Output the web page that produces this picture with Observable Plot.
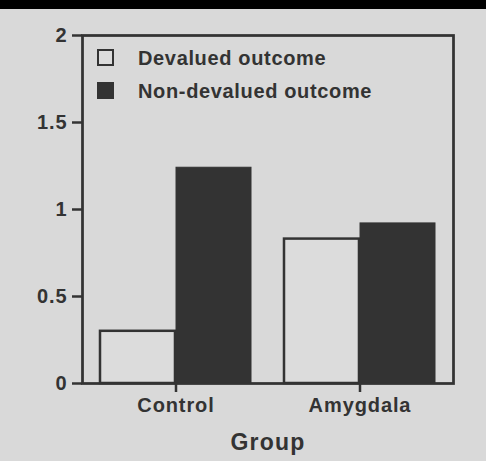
<!DOCTYPE html>
<html>
<head>
<meta charset="utf-8">
<script src="https://cdn.jsdelivr.net/npm/d3@7"></script>
<script src="https://cdn.jsdelivr.net/npm/@observablehq/plot@0.6"></script>
<style>
  html, body { margin: 0; padding: 0; background: #d9d9d9; }
  #page { position: relative; width: 486px; height: 461px; overflow: hidden; background: #d9d9d9; }
  #topband { height: 9px; background: #000; }
  #chart svg { display: block; }
  #chart text { letter-spacing: 0.9px; }
  #chart g[aria-label="x-axis label"] text { font-size: 23px; letter-spacing: 1.2px; }
  .legend { position: absolute; left: 97px; font: bold 20px "Liberation Sans", Arial, sans-serif; color: #333; letter-spacing: 0.65px; }
  .legend .row { position: absolute; left: 0; height: 22px; line-height: 22px; white-space: nowrap; }
  .legend .sw { position: absolute; left: 0; top: 2px; width: 13px; height: 13px; border: 2.5px solid #333; }
  .legend .lab { position: absolute; left: 41px; top: 0; }
</style>
</head>
<body>
<div id="page">
  <div id="topband"></div>
  <div id="chart"></div>
  <div class="legend" id="legend"></div>
</div>
<script>
const groups = ["Control", "Amygdala"];
const devalued = [0.30, 0.83];
const nonDevalued = [1.24, 0.92];
const conditions = ["Devalued outcome", "Non-devalued outcome"];
const conditionFills = ["#dcdcdc", "#333333"];
const yTicks = [0, 0.5, 1, 1.5, 2];
const xLabel = "Group";

const W = 486, H = 452;
const mL = 82, mR = 33, mT = 26, mB = 78;
const padIn = 0.177, padOut = 0.0926;

const bw = d3.scaleBand().domain(groups).range([mL, W - mR])
  .paddingInner(padIn).paddingOuter(padOut).bandwidth();

const rowsDev = groups.map((g, i) => ({group: g, value: devalued[i]}));
const rowsNon = groups.map((g, i) => ({group: g, value: nonDevalued[i]}));

const ink = "#333";
const plot = Plot.plot({
  width: W, height: H,
  marginLeft: mL, marginRight: mR, marginTop: mT, marginBottom: mB,
  style: {background: "transparent", color: ink, fontFamily: "'Liberation Sans', Arial, sans-serif", fontSize: "20px", fontWeight: "bold"},
  x: {domain: groups, paddingInner: padIn, paddingOuter: padOut},
  y: {domain: [0, 2]},
  marks: [
    Plot.barY(rowsDev, {x: "group", y: "value", fill: conditionFills[0], stroke: ink, strokeWidth: 2.5, insetRight: bw / 2}),
    Plot.barY(rowsNon, {x: "group", y: "value", fill: conditionFills[1], stroke: ink, strokeWidth: 1, insetLeft: bw / 2}),
    Plot.frame({stroke: ink, strokeWidth: 2.75}),
    Plot.axisY({ticks: yTicks, tickFormat: d => String(d), tickSize: 10, tickPadding: 5, strokeWidth: 2.5, label: null}),
    Plot.axisX({tickSize: 9, tickPadding: 5, strokeWidth: 2.5, label: xLabel, labelAnchor: "center", labelOffset: 66})
  ]
});
document.getElementById("chart").appendChild(plot);

const legend = document.getElementById("legend");
legend.style.top = "47px";
conditions.forEach((c, i) => {
  const row = document.createElement("div");
  row.className = "row";
  row.style.top = (i * 33) + "px";
  const sw = document.createElement("div");
  sw.className = "sw";
  sw.style.background = conditionFills[i];
  const lab = document.createElement("div");
  lab.className = "lab";
  lab.textContent = c;
  row.appendChild(sw);
  row.appendChild(lab);
  legend.appendChild(row);
});
</script>
</body>
</html>
